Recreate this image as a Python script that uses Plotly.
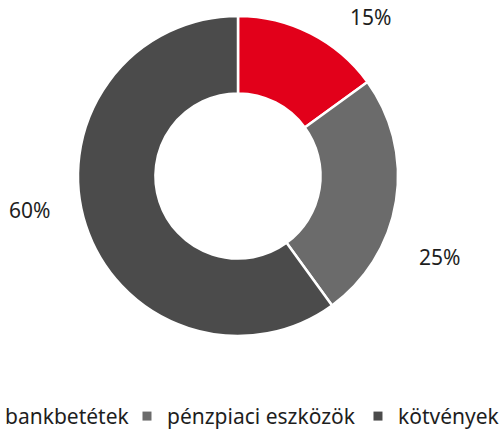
import math
import plotly.graph_objects as go

labels = ["bankbetétek", "pénzpiaci eszközök", "kötvények"]
values = [15, 25, 60]
colors = ["#e2001a", "#6b6b6b", "#4b4b4b"]

W, H, B = 503, 432, 40
PH = H - B  # paper height in px
cx, cy, R = 238, 176, 160  # pie centre / radius in px (from top-left)

fig = go.Figure(go.Pie(
    labels=labels, values=values, hole=0.516, sort=False, direction="clockwise",
    rotation=0, marker=dict(colors=colors, line=dict(color="white", width=2.5)),
    textinfo="none", hoverinfo="label+percent",
    domain=dict(x=[(cx - R) / W, (cx + R) / W], y=[(PH - cy - R) / PH, (PH - cy + R) / PH]),
    showlegend=False,
))

# legend entries (small square keys, one per category); last one in a 2nd legend box
legend_ids = ["legend", "legend", "legend2"]
legend_widths = [117, None, None]
for lab, col, lid, lw in zip(labels, colors, legend_ids, legend_widths):
    tr = go.Scatter(
        x=[None], y=[None], mode="markers", name=lab, hoverinfo="skip",
        marker=dict(symbol="square", size=9, color=col),
        showlegend=True, legend=lid,
    )
    if lw:
        tr.legendwidth = lw
    fig.add_trace(tr)

# percentage labels placed around the ring, derived from the values
total = sum(values)
cum = 0
annotations = []
for v in values:
    mid = (cum + v / 2) / total * 360
    cum += v
    th = math.radians(mid + 11)
    r = 212
    px = cx + r * math.sin(th) + 2
    py = cy - r * math.cos(th) + 8
    annotations.append(dict(
        x=px / W, y=(PH - py) / PH, xref="paper", yref="paper",
        text=f"{round(v / total * 100)}%", showarrow=False,
        xanchor="center", yanchor="middle",
        font=dict(size=21, color="#1e1e1e"),
    ))

leg_common = dict(orientation="h", xref="paper", yref="paper", y=-0.01, yanchor="top",
                  xanchor="left", font=dict(size=21), itemwidth=30, tracegroupgap=0)
fig.update_layout(
    width=W, height=H, margin=dict(l=0, r=0, t=0, b=B, autoexpand=False),
    paper_bgcolor="white", plot_bgcolor="white",
    font=dict(family="Noto Sans", size=21, color="#1e1e1e"),
    annotations=annotations,
    xaxis=dict(visible=False), yaxis=dict(visible=False),
    legend=dict(x=-0.0696, **leg_common),
    legend2=dict(x=0.7117, **leg_common),
)
fig.write_html("out.html")
